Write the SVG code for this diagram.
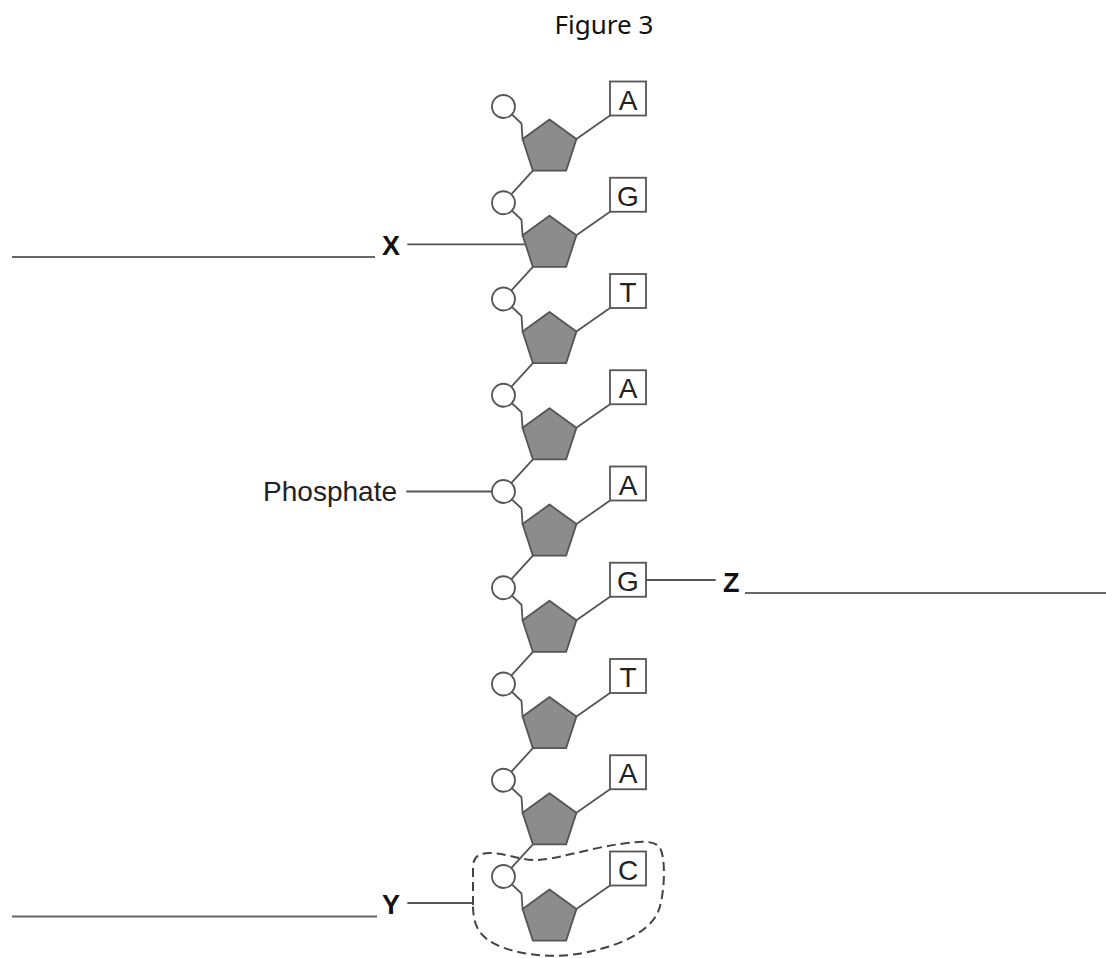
<svg xmlns="http://www.w3.org/2000/svg" width="1106" height="958" viewBox="0 0 1106 958">
<style>
.ln{fill:none;stroke:#555;stroke-width:1.8;stroke-linecap:round;stroke-linejoin:round}
.lead{fill:none;stroke:#666;stroke-width:2}
.ph{fill:#fff;stroke:#555;stroke-width:1.8}
.su{fill:#8c8c8c;stroke:#555;stroke-width:1.8;stroke-linejoin:round}
.bx{fill:#fff;stroke:#555;stroke-width:1.8}
.bt{font-family:"Liberation Sans",Arial,sans-serif;font-size:28px;fill:#222;text-anchor:middle}
.lb{font-family:"Liberation Sans",Arial,sans-serif;font-size:27px;font-weight:bold;fill:#111}
.tx{font-family:"Liberation Sans",Arial,sans-serif;font-size:28px;fill:#222}
.title{font-family:"Noto Sans",sans-serif;font-size:26px;fill:#111;text-anchor:middle}
.dash{fill:none;stroke:#444;stroke-width:2;stroke-dasharray:9 5}
</style>
<defs>
<g id="bond">
<path class="ln" d="M503.5 0 L521.5 17 L522.6 32.6"/>
<path class="ln" d="M576.4 32.6 L610 9"/>
</g>
<path id="link" class="ln" d="M532.9 64.2 L503.5 96.25"/>
<polygon id="pent" class="su" points="549.5,13 576.4,32.6 566.1,64.2 532.9,64.2 522.6,32.6"/>
</defs>
<rect width="1106" height="958" fill="#fff"/>
<text class="title" x="604" y="34">Figure 3</text>

<g id="connectors">
<use href="#bond" transform="translate(0,106.5)"/>
<use href="#link" transform="translate(0,106.5)"/>
<use href="#bond" transform="translate(0,202.75)"/>
<use href="#link" transform="translate(0,202.75)"/>
<use href="#bond" transform="translate(0,299)"/>
<use href="#link" transform="translate(0,299)"/>
<use href="#bond" transform="translate(0,395.25)"/>
<use href="#link" transform="translate(0,395.25)"/>
<use href="#bond" transform="translate(0,491.5)"/>
<use href="#link" transform="translate(0,491.5)"/>
<use href="#bond" transform="translate(0,587.75)"/>
<use href="#link" transform="translate(0,587.75)"/>
<use href="#bond" transform="translate(0,684)"/>
<use href="#link" transform="translate(0,684)"/>
<use href="#bond" transform="translate(0,780.25)"/>
<use href="#link" transform="translate(0,780.25)"/>
<use href="#bond" transform="translate(0,876.5)"/>
<!-- label leaders -->
<path class="lead" d="M12 257 L375 257"/>
<path class="ln" d="M408 244.3 L526 244.3"/>
<path class="ln" d="M407 491.5 L492 491.5"/>
<path class="ln" d="M646 580 L715 580"/>
<path class="lead" d="M745 593 L1106 593"/>
<path class="lead" d="M12 916.5 L377 916.5"/>
<path class="ln" d="M408 903 L473 903"/>
</g>

<g id="unit-1" transform="translate(0,106.5)"><circle class="ph" cx="503.5" cy="0" r="11.5"/><use href="#pent"/><rect class="bx" x="610" y="-25" width="36" height="34"/><text class="bt" x="628" y="3">A</text></g>
<g id="unit-2" transform="translate(0,202.75)"><circle class="ph" cx="503.5" cy="0" r="11.5"/><use href="#pent"/><rect class="bx" x="610" y="-25" width="36" height="34"/><text class="bt" x="628" y="3">G</text></g>
<g id="unit-3" transform="translate(0,299)"><circle class="ph" cx="503.5" cy="0" r="11.5"/><use href="#pent"/><rect class="bx" x="610" y="-25" width="36" height="34"/><text class="bt" x="628" y="3">T</text></g>
<g id="unit-4" transform="translate(0,395.25)"><circle class="ph" cx="503.5" cy="0" r="11.5"/><use href="#pent"/><rect class="bx" x="610" y="-25" width="36" height="34"/><text class="bt" x="628" y="3">A</text></g>
<g id="unit-5" transform="translate(0,491.5)"><circle class="ph" cx="503.5" cy="0" r="11.5"/><use href="#pent"/><rect class="bx" x="610" y="-25" width="36" height="34"/><text class="bt" x="628" y="3">A</text></g>
<g id="unit-6" transform="translate(0,587.75)"><circle class="ph" cx="503.5" cy="0" r="11.5"/><use href="#pent"/><rect class="bx" x="610" y="-25" width="36" height="34"/><text class="bt" x="628" y="3">G</text></g>
<g id="unit-7" transform="translate(0,684)"><circle class="ph" cx="503.5" cy="0" r="11.5"/><use href="#pent"/><rect class="bx" x="610" y="-25" width="36" height="34"/><text class="bt" x="628" y="3">T</text></g>
<g id="unit-8" transform="translate(0,780.25)"><circle class="ph" cx="503.5" cy="0" r="11.5"/><use href="#pent"/><rect class="bx" x="610" y="-25" width="36" height="34"/><text class="bt" x="628" y="3">A</text></g>
<g id="unit-9" transform="translate(0,876.5)"><circle class="ph" cx="503.5" cy="0" r="11.5"/><use href="#pent"/><rect class="bx" x="610" y="-25" width="36" height="34"/><text class="bt" x="628" y="3">C</text></g>

<g id="nucleotide-outline"><path class="dash" d="M473 905 L473 868 C473 857 478 853 490 853 C505 853 520 860 535 860 C555 860 590 848 620 844 C640 841 655 840 660 848 C666 858 665 895 658 912 C648 935 610 950 570 955 C540 958 505 952 488 940 C476 931 473 920 473 905 Z"/></g>

<g id="label-X"><text class="lb" x="382" y="254.5">X</text></g>
<g id="label-Phosphate"><text class="tx" x="397" y="501" text-anchor="end">Phosphate</text></g>
<g id="label-Z"><text class="lb" x="723" y="591.5">Z</text></g>
<g id="label-Y"><text class="lb" x="382" y="913.5">Y</text></g>
</svg>
